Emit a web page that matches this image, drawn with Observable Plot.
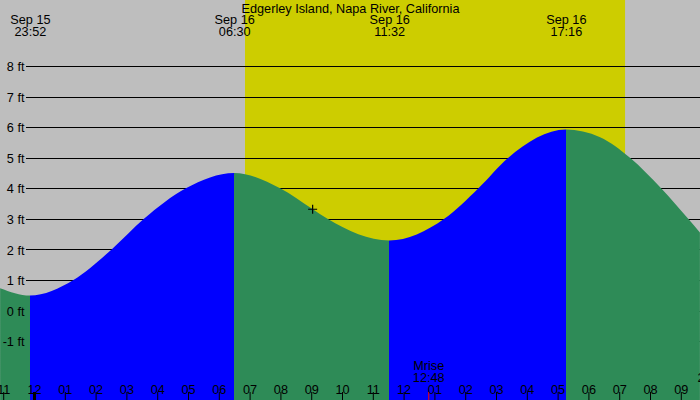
<!DOCTYPE html>
<html><head><meta charset="utf-8">
<script src="https://cdn.jsdelivr.net/npm/d3@7"></script>
<script src="https://cdn.jsdelivr.net/npm/@observablehq/plot@0.6"></script>
<style>body{margin:0;background:#fff} svg{display:block}</style>
</head><body><div id="chart"></div>
<script>
// ---- data (hours relative to Sep 16 00:00, heights in ft) ----
const title = "Edgerley Island, Napa River, California";
const times   = [-1.1, -0.133, 1.28, 2.52, 3.57, 4.93, 6.5, 7.99, 9.03, 9.53, 11.533, 13.32, 14.43, 15.4, 17.267, 18.38, 19.35, 20.36, 21.24, 21.62];
const heights = [0.73, 0.49, 1.0, 2.0, 3.0, 4.0, 4.5, 4.0, 3.33, 3.0, 2.29, 3.0, 4.0, 5.0, 5.92, 5.67, 5.0, 4.0, 3.0, 2.55];
const extremeTimes = [-0.133, 6.5, 11.533, 17.267];
const extremeTypes = ["low", "high", "low", "high"];
const extremeDates = ["Sep 15", "Sep 16", "Sep 16", "Sep 16"];
const extremeClock = ["23:52", "06:30", "11:32", "17:16"];
const sunrise = 6.85, sunset = 19.19;
const moonTimes = [12.8];
const moonLabels = ["Mrise"];
const moonClock = ["12:48"];
const hourTicks = [-1,0,1,2,3,4,5,6,7,8,9,10,11,12,13,14,15,16,17,18,19,20,21];
const hourLabels = ["11","12","01","02","03","04","05","06","07","08","09","10","11","12","01","02","03","04","05","06","07","08","09"];
const dayStarts = [0];
const yTicks = [-1,0,1,2,3,4,5,6,7,8];
const markerTimes = [9.03];
const markerHeights = [3.33];
const cutLabel = ["2"];

const risingColor = "#0000ff", fallingColor = "#2e8b57";
const xDomain = [-1.104, 21.623];
const yDomain = [-2.925, 10.159];

const tide = times.map((t, i) => ({t, h: heights[i]}));
const extremes = extremeTimes.map((t, i) => ({t, date: extremeDates[i], clock: extremeClock[i]}));
const moons = moonTimes.map((t, i) => ({t, label: moonLabels[i], clock: moonClock[i]}));
const markers = markerTimes.map((t, i) => ({t, h: markerHeights[i]}));

const plusSymbol = {
  draw(context, size) {
    const r = Math.sqrt(size / Math.PI);
    context.moveTo(-r, 0); context.lineTo(r, 0);
    context.moveTo(0, -r); context.lineTo(0, r);
  }
};

const W = 700, H = 400;
const chart = Plot.plot({
  width: W, height: H, margin: 0,
  x: {domain: xDomain, axis: null},
  y: {domain: yDomain, axis: null},
  style: {fontFamily: "'Liberation Sans', Arial, sans-serif", fontSize: "12.7px", background: "#bebebe", color: "black", overflow: "hidden"},
  marks: [
    Plot.rect([{a: sunrise, b: sunset}], {x1: "a", x2: "b", fill: "#cdcd00"}),
    Plot.ruleY(yTicks, {insetLeft: 26, stroke: "black", shapeRendering: "crispEdges"}),
    Plot.areaY(tide, {x: "t", y1: yDomain[0], y2: "h", fill: fallingColor, curve: "monotone-x"}),
    Plot.text(yTicks, {y: d => d, text: d => `${d} ft`, frameAnchor: "left", textAnchor: "end", dx: 24, dy: 0.6, fill: "black"}),
    Plot.text([title], {text: d => d, frameAnchor: "top", lineAnchor: "top", dy: 3, fill: "black"}),
    Plot.text(extremes, {x: "t", text: d => `${d.date}\n${d.clock}`, frameAnchor: "top", lineAnchor: "top", dy: 15, lineHeight: 0.945, fill: "black"}),
    Plot.ruleX(hourTicks, {x: d => d, insetTop: 392, stroke: "black"}),
    Plot.ruleX(dayStarts, {x: d => d, insetTop: 392, stroke: "black", strokeWidth: 3}),
    Plot.ruleX(moonTimes, {x: d => d, insetTop: 392, stroke: "red"}),
    Plot.text(hourTicks, {x: d => d, text: (d, i) => hourLabels[i], frameAnchor: "bottom", lineAnchor: "bottom", dy: -6.3, fill: "black"}),
    Plot.text(moons, {x: "t", text: d => `${d.label}\n${d.clock}`, frameAnchor: "bottom", lineAnchor: "bottom", dy: -18.6, lineHeight: 0.945, fill: "black"}),
    Plot.text(cutLabel, {text: d => d, frameAnchor: "bottom-right", textAnchor: "start", lineAnchor: "bottom", dx: -3, dy: -18.6, fill: "black"}),
    Plot.dot(markers, {x: "t", y: "h", r: 4.5, symbol: plusSymbol, stroke: "black", fill: "none", strokeWidth: 1.2})
  ]
});

// colour the water by rising / falling phase with a hard-stop gradient placed by the x scale
const xs = chart.scale("x");
const svg = d3.select(chart);
const grad = svg.insert("defs", ":first-child").append("linearGradient")
  .attr("id", "tideGrad").attr("gradientUnits", "userSpaceOnUse")
  .attr("x1", 0).attr("x2", W).attr("y1", 0).attr("y2", 0);
const cuts = [0, ...extremeTimes.map(t => Math.max(0, Math.min(1, xs.apply(t) / W))), 1];
for (let s = 0; s < cuts.length - 1; s++) {
  const rising = s === 0 ? extremeTypes[0] === "high" : extremeTypes[s - 1] === "low";
  const c = rising ? risingColor : fallingColor;
  grad.append("stop").attr("offset", cuts[s]).attr("stop-color", c);
  grad.append("stop").attr("offset", cuts[s + 1]).attr("stop-color", c);
}
svg.selectAll('g[aria-label="area"]').attr("fill", "url(#tideGrad)");
svg.selectAll('g[aria-label="area"] path').attr("fill", null);

document.getElementById("chart").appendChild(chart);
</script>
</body></html>
